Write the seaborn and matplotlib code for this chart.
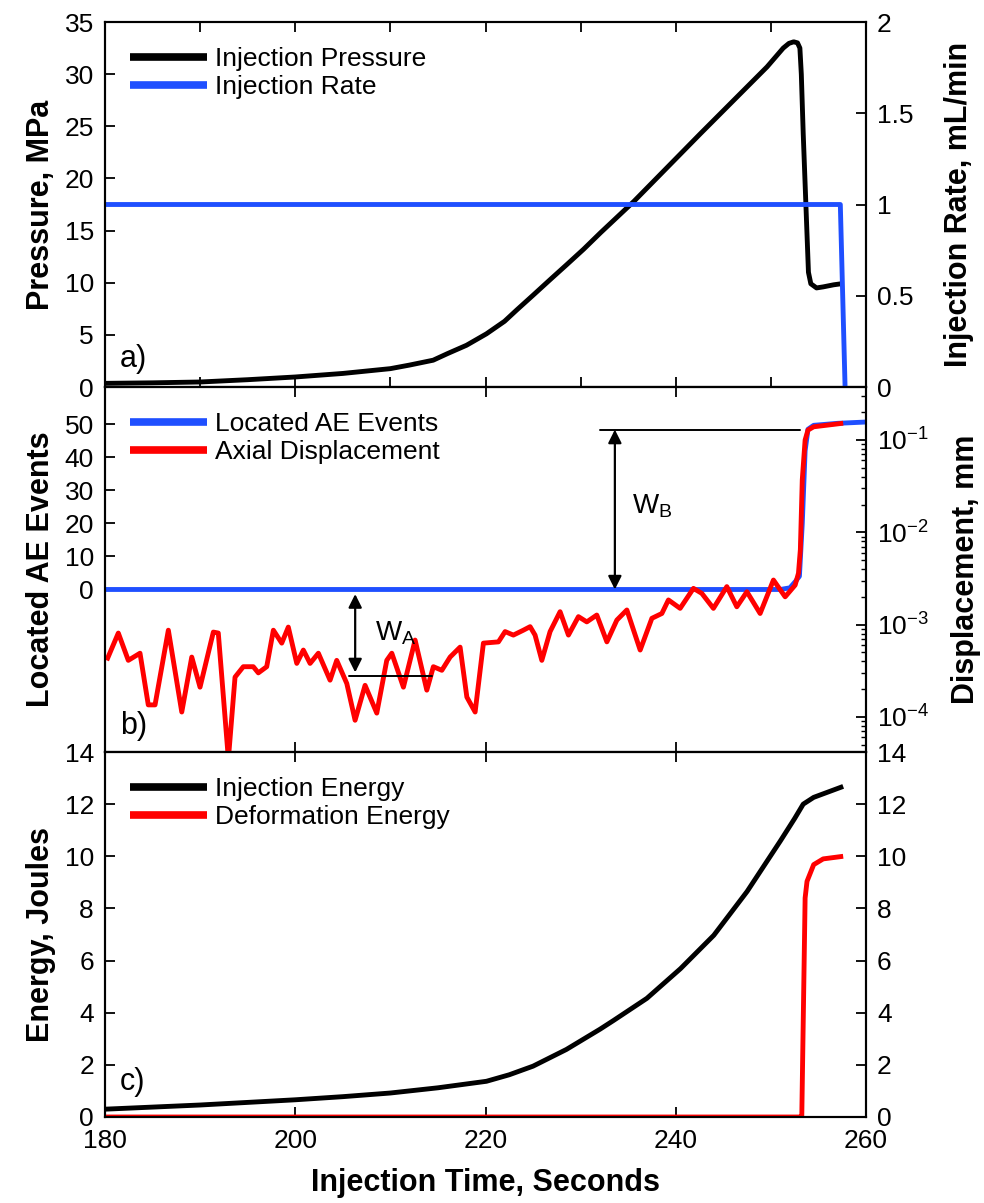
import numpy as np
import pandas as pd
import matplotlib
matplotlib.use("Agg")
import matplotlib.pyplot as plt
import seaborn as sns
from matplotlib.ticker import MultipleLocator, LogLocator, NullFormatter, FixedLocator

# ---------------- data ----------------
# panel a: injection pressure (MPa) and injection rate (mL/min)
t_pressure = [180, 185, 190, 195, 200, 205, 210, 212, 214.5, 216, 218, 220.1, 222, 223.3, 225,
              226.8, 228.5, 230.3, 232.1, 235.6, 242.6, 249.6, 251.3, 251.9, 252.4, 252.8, 253.05,
              253.2, 253.4, 253.8, 253.95, 254.2, 254.8, 255.5, 256.6, 257.4]
pressure = [0.35, 0.40, 0.48, 0.70, 0.96, 1.30, 1.76, 2.10, 2.57, 3.20, 4.00, 5.10, 6.30, 7.40, 8.80,
            10.3, 11.7, 13.2, 14.8, 17.8, 24.3, 30.7, 32.5, 32.95, 33.1, 33.0, 32.5,
            30.0, 24.3, 14.6, 11.0, 9.9, 9.5, 9.6, 9.8, 9.9]
t_rate = [180, 257.3, 257.8]
rate = [1.0, 1.0, 0.0]

# panel b: located AE events (count) and axial displacement (mm)
t_ae = [180, 251.0, 252.0, 252.6, 253.0, 253.3, 253.6, 253.9, 254.5, 257.0, 260]
ae_events = [0, 0, 0.5, 2.5, 4, 20, 42, 48.5, 49.7, 50.3, 50.7]
t_disp = [180.18, 181.40, 182.45, 183.68, 184.55, 185.26, 186.66, 188.07, 189.12, 189.99,
          191.39, 191.91, 192.97, 193.67, 194.54, 195.59, 196.12, 197.00, 197.70, 198.58,
          199.27, 200.16, 200.85, 201.56, 202.43, 203.66, 204.36, 205.42, 206.29, 207.34,
          208.57, 209.62, 210.15, 211.37, 212.60, 213.83, 214.52, 215.41, 216.28, 217.33,
          218.04, 218.91, 219.78, 221.36, 222.06, 222.93, 223.98, 224.69, 225.21, 225.92,
          226.79, 227.84, 228.72, 229.77, 230.65, 231.70, 232.76, 233.81, 234.86, 236.26,
          237.49, 238.54, 239.23, 240.46, 241.86, 242.74, 243.96, 245.37, 246.42, 247.48,
          248.87, 250.27, 251.50, 252.55, 252.90, 253.10, 253.30, 253.60, 253.90, 254.50, 257.60]
displacement = [4.1e-4, 8.1e-4, 4.1e-4, 4.9e-4, 1.35e-4, 1.35e-4, 8.7e-4, 1.13e-4, 4.45e-4, 2.1e-4,
                8.3e-4, 8.1e-4, 3.5e-5, 2.7e-4, 3.5e-4, 3.5e-4, 3.0e-4, 3.5e-4, 8.7e-4, 6.3e-4,
                9.4e-4, 3.8e-4, 5.3e-4, 3.8e-4, 4.9e-4, 2.5e-4, 4.1e-4, 2.3e-4, 9.2e-5, 2.2e-4,
                1.1e-4, 4.1e-4, 4.9e-4, 2.1e-4, 6.8e-4, 1.95e-4, 3.5e-4, 3.2e-4, 4.45e-4, 5.7e-4,
                1.64e-4, 1.13e-4, 6.3e-4, 6.5e-4, 8.4e-4, 7.7e-4, 8.7e-4, 9.5e-4, 7.7e-4, 4.1e-4,
                8.4e-4, 1.38e-3, 7.7e-4, 1.22e-3, 1.07e-3, 1.27e-3, 6.5e-4, 1.12e-3, 1.44e-3, 5.3e-4,
                1.17e-3, 1.32e-3, 1.85e-3, 1.50e-3, 2.47e-3, 2.18e-3, 1.50e-3, 2.58e-3, 1.56e-3, 2.27e-3,
                1.32e-3, 3.04e-3, 2.0e-3, 2.68e-3, 3.6e-3, 6.5e-3, 0.037, 0.10, 0.128, 0.139, 0.152]

# panel c: energies (J)
t_inj_energy = [180, 190, 200, 205, 210, 215, 220.1, 222.5, 225.0, 228.5, 232.05, 233.45, 236.96,
                240.5, 244.0, 247.5, 251.0, 252.5, 253.4, 254.5, 257.6]
inj_energy = [0.30, 0.46, 0.66, 0.78, 0.92, 1.12, 1.37, 1.62, 1.95, 2.59, 3.37, 3.70, 4.55,
              5.69, 6.97, 8.65, 10.59, 11.45, 12.0, 12.26, 12.68]
t_def_energy = [180, 253.1, 253.25, 253.6, 253.8, 254.5, 255.5, 257.6]
def_energy = [0, 0, 0.05, 8.4, 9.04, 9.68, 9.9, 10.0]

# annotation anchors (data units of panel b, left axis)
wb_x, wb_top, wb_line = 233.6, 48.4, (232.05, 253.1)
wa_x, wa_bottom, wa_line = 206.3, -26.3, (205.6, 214.35)

BLACK, BLUE, RED = "#000000", "#1f4fff", "#ff0000"

# ---------------- style ----------------
sns.set_theme(style="ticks")
plt.rcParams["font.family"] = ["Liberation Sans", "DejaVu Sans"]
plt.rcParams["mathtext.fontset"] = "custom"
plt.rcParams["mathtext.rm"] = "Liberation Sans"
plt.rcParams["mathtext.it"] = "Liberation Sans:italic"
plt.rcParams["mathtext.bf"] = "Liberation Sans:bold"
plt.rcParams["axes.linewidth"] = 1.5
plt.rcParams["axes.edgecolor"] = "black"
plt.rcParams["text.color"] = "black"
plt.rcParams["axes.labelcolor"] = "black"
plt.rcParams["xtick.color"] = "black"
plt.rcParams["ytick.color"] = "black"

TICK_FS, LAB_FS, LEG_FS = 19, 22, 19
LW = 3.5

fig = plt.figure(figsize=(9.84, 12.03), dpi=100)
L, W = 105 / 984, 761 / 984
H = 365 / 1203
axa = fig.add_axes([L, 1 - 387 / 1203, W, H])
axb = fig.add_axes([L, 1 - 752 / 1203, W, H])
axc = fig.add_axes([L, 1 - 1117 / 1203, W, H])
axa2, axb2, axc2 = axa.twinx(), axb.twinx(), axc.twinx()


def draw(ax, t, v, color, label):
    df = pd.DataFrame({"t": t, "v": v})
    sns.lineplot(data=df, x="t", y="v", ax=ax, color=color, linewidth=LW,
                 sort=False, estimator=None, legend=False)
    line = ax.lines[-1]
    line.set_label(label)
    line.set_solid_joinstyle("round")
    line.set_solid_capstyle("butt")
    return line


# panel a
lp = draw(axa, t_pressure, pressure, BLACK, "Injection Pressure")
lr = draw(axa2, t_rate, rate, BLUE, "Injection Rate")
# panel b
lae = draw(axb, t_ae, ae_events, BLUE, "Located AE Events")
axb2.set_yscale("log")
ld = draw(axb2, t_disp, displacement, RED, "Axial Displacement")
# panel c
lie = draw(axc, t_inj_energy, inj_energy, BLACK, "Injection Energy")
lde = draw(axc, t_def_energy, def_energy, RED, "Deformation Energy")

for ax in (axa, axb, axc, axa2, axb2, axc2):
    ax.set_xlabel("")
    ax.set_ylabel("")
    ax.set_xlim(180, 260)

axa.set_ylim(0, 35)
axa2.set_ylim(0, 2)
axb.set_ylim(-49.2, 61.3)
axb2.set_ylim(10 ** -4.38, 10 ** -0.426)
axc.set_ylim(0, 14)
axc2.set_ylim(0, 14)

# ticks
axa.yaxis.set_major_locator(MultipleLocator(5))
axa2.yaxis.set_major_locator(MultipleLocator(0.5))
axa2.yaxis.set_major_formatter(plt.FuncFormatter(lambda v, p: f"{v:g}"))
axb.yaxis.set_major_locator(FixedLocator([0, 10, 20, 30, 40, 50]))
axb2.yaxis.set_major_locator(LogLocator(base=10, numticks=10))
axb2.yaxis.set_minor_locator(LogLocator(base=10, subs=np.arange(2, 10), numticks=20))
axb2.yaxis.set_minor_formatter(NullFormatter())
axc.yaxis.set_major_locator(MultipleLocator(2))
axc2.yaxis.set_major_locator(MultipleLocator(2))

for ax in (axa, axb, axc, axa2, axb2, axc2):
    ax.tick_params(which="major", direction="in", length=7, width=1.3,
                   labelsize=TICK_FS, pad=8, colors="black")
    ax.tick_params(which="minor", direction="in", length=3.5, width=1.0)

for ax in (axa, axb, axc):
    ax.tick_params(axis="y", left=True, right=False)
    ax.tick_params(axis="x", top=True, bottom=True, labelbottom=False, labeltop=False)
for ax in (axa2, axb2, axc2):
    ax.tick_params(axis="y", left=False, right=True, labelright=True, labelleft=False)

axa.xaxis.set_major_locator(MultipleLocator(10))
axb.xaxis.set_major_locator(MultipleLocator(20))
axc.xaxis.set_major_locator(MultipleLocator(20))
axc.tick_params(axis="x", labelbottom=True, pad=9)

# labels
axa.set_ylabel("Pressure, MPa", fontsize=LAB_FS, fontweight="bold")
axb.set_ylabel("Located AE Events", fontsize=LAB_FS, fontweight="bold")
axc.set_ylabel("Energy, Joules", fontsize=LAB_FS, fontweight="bold")
for ax in (axa, axb, axc):
    ax.yaxis.set_label_coords(-0.064, 0.5)
axa2.set_ylabel("Injection Rate, mL/min", fontsize=LAB_FS, fontweight="bold")
axb2.set_ylabel("Displacement, mm", fontsize=LAB_FS, fontweight="bold")
axa2.yaxis.set_label_coords(1.102, 0.5)
axb2.yaxis.set_label_coords(1.112, 0.5)
axc.set_xlabel("Injection Time, Seconds", fontsize=LAB_FS, fontweight="bold")
axc.xaxis.set_label_coords(0.5, -0.14)

# panel letters
for ax, s, y in ((axa, "a)", 0.035), (axb, "b)", 0.03), (axc, "c)", 0.055)):
    ax.text(0.02, y, s, transform=ax.transAxes, fontsize=LAB_FS, ha="left", va="bottom")


def legend(ax, handles):
    leg = ax.legend(handles, [h.get_label() for h in handles], loc="upper left",
                    bbox_to_anchor=(0, 1), frameon=False, fontsize=LEG_FS,
                    handlelength=2.9, handletextpad=0.3, labelspacing=0.15,
                    borderaxespad=0.5, borderpad=0.45)
    for hl in leg.get_lines():
        hl.set_linewidth(5.5)
    return leg


legend(axa2, [lp, lr])
legend(axb2, [lae, ld])
legend(axc2, [lie, lde])

# annotations in panel b (drawn above the curves)
tr = axb.transData
arrow = dict(arrowstyle="<|-|>", mutation_scale=20, lw=1.6, color="black",
             shrinkA=0, shrinkB=0)
axb2.annotate("", xy=(wb_x, 0), xytext=(wb_x, wb_top), xycoords=tr, textcoords=tr,
              arrowprops=arrow)
axb2.annotate("", xy=(wa_x, -1.4), xytext=(wa_x, wa_bottom + 1.2), xycoords=tr, textcoords=tr,
              arrowprops=arrow)
axb2.plot(list(wb_line), [wb_top, wb_top], transform=tr, color="black", lw=1.4)
axb2.plot(list(wa_line), [wa_bottom, wa_bottom], transform=tr, color="black", lw=1.4)
axb2.set_ylim(10 ** -4.38, 10 ** -0.426)
axb2.set_xlim(180, 260)
axb2.text(235.4, 23, r"$\mathregular{W_B}$", transform=tr, fontsize=20, ha="left", va="baseline")
axb2.text(208.4, -15.5, r"$\mathregular{W_A}$", transform=tr, fontsize=20, ha="left", va="baseline")

fig.savefig("out.png", dpi=100)
